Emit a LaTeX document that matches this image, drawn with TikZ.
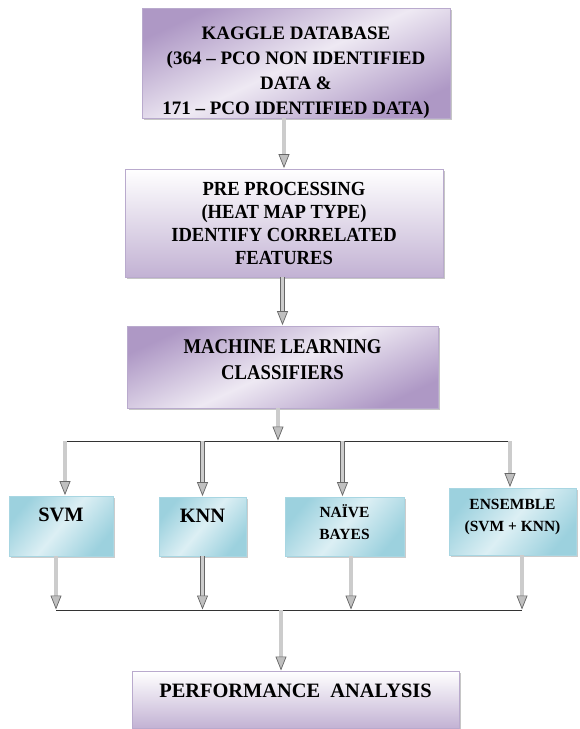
\documentclass[tikz,border=0pt]{standalone}
\usepackage{fontspec}
\setmainfont{Liberation Serif}
\newfontfamily\tnr{Liberation Serif}
\newfontfamily\tnrB{Liberation Serif}[FakeStretch=0.93]
\newfontfamily\tnrC{Liberation Serif}[FakeStretch=0.89]
\usetikzlibrary{arrows.meta,shadows,calc}
\definecolor{pdark}{HTML}{AE98C5}
\definecolor{plight}{HTML}{EEE9F3}
\definecolor{pborder}{HTML}{B9AACD}
\definecolor{bdark}{HTML}{9CD1DE}
\definecolor{blight}{HTML}{DCEFF4}
\definecolor{bborder}{HTML}{A8D6E2}
\tikzset{
  pbox/.style={draw=pborder, line width=0.8pt, align=center,
    drop shadow={shadow xshift=1.5pt, shadow yshift=-2pt, opacity=0.45, fill=gray}},
  pdiag/.style={pbox, top color=pdark, bottom color=pdark, middle color=plight, shading angle=25},
  pvert/.style={pbox, top color=white, bottom color=pdark!75},
  bbox/.style={draw=bborder, line width=0.8pt, align=center,
    top color=bdark, bottom color=bdark, middle color=blight, shading angle=50,
    drop shadow={shadow xshift=1.5pt, shadow yshift=-2pt, opacity=0.4, fill=gray}},
  blk/.style={draw=gray!80!black, line width=0.7pt, double=gray!40, double distance=3.2pt,
    -{Triangle[length=14pt, width=11pt, fill=gray!50, line width=0.7pt]}, shorten >=0.5pt},
  bus/.style={draw=black!80, line width=1pt}
}
\begin{document}
\begin{tikzpicture}[x=1pt, y=-1pt]
\useasboundingbox (0,0) rectangle (580,729);
\node[pdiag, minimum width=308pt, minimum height=110pt,
  label={[align=center, yshift=-10pt, font=\tnr\bfseries\fontsize{19}{25}\selectfont]center:KAGGLE DATABASE\\(364 – PCO NON IDENTIFIED\\DATA \&\\171 – PCO IDENTIFIED DATA)}] (b1) at (296,63) {};
\node[pvert, minimum width=318pt, minimum height=108pt, font=\tnrB\bfseries\fontsize{20}{23}\selectfont] (b2) at (284,223)
  {PRE PROCESSING\\(HEAT MAP TYPE)\\IDENTIFY CORRELATED\\FEATURES};
\node[pdiag, minimum width=311pt, minimum height=82pt, font=\tnrC\bfseries\fontsize{21}{26}\selectfont] (b3) at (282.5,367)
  {MACHINE LEARNING\\CLASSIFIERS\rule[-15pt]{0pt}{0pt}};
\node[bbox, minimum width=104pt, minimum height=60pt, font=\tnr\bfseries\fontsize{20.4}{22}\selectfont] (svm) at (61,526) {SVM\rule[-22pt]{0pt}{0pt}};
\node[bbox, minimum width=87pt, minimum height=59pt, font=\tnr\bfseries\fontsize{20.4}{22}\selectfont] (knn) at (202.5,526.5) {KNN\rule[-22pt]{0pt}{0pt}};
\node[bbox, minimum width=119pt, minimum height=59pt, font=\tnr\bfseries\fontsize{15.5}{22}\selectfont] (nb) at (344.5,526.5) {NAÏVE\\BAYES\rule[-8pt]{0pt}{0pt}};
\node[bbox, minimum width=127pt, minimum height=67pt, font=\tnr\bfseries\fontsize{15.5}{22}\selectfont] (ens) at (512.5,521.5) {ENSEMBLE\\(SVM + KNN)\rule[-13pt]{0pt}{0pt}};
\node[pvert, anchor=north, minimum width=327pt, inner ysep=0pt, text height=26pt, text depth=31pt,
  font=\tnr\bfseries\fontsize{20.4}{22}\selectfont] (perf) at (295.5,671) {PERFORMANCE\ \ ANALYSIS};

\coordinate (t1) at (65,441);
\coordinate (t2) at (510,441);
\coordinate (tm) at (278,441);
\coordinate (u1) at (56,610);
\coordinate (u2) at (522,610);
\coordinate (um) at (281,610);

\draw[blk] (b2.north |- b1.south) -- (b2.north);
\draw[blk] (b3.north |- b2.south) -- (b3.north);
\draw[blk] (tm |- b3.south) -- (tm);
\draw[bus] (t1) -- (t2);
\draw[blk] (t1) -- (t1 |- svm.north);
\draw[blk] (knn.north |- t1) -- (knn.north);
\draw[blk] ($(nb.north |- t1)+(-2,0)$) -- ($(nb.north)+(-2,0)$);
\draw[blk] (t2) -- (t2 |- ens.north);
\draw[blk] (u1 |- svm.south) -- (u1);
\draw[blk] (knn.south) -- (knn.south |- u1);
\draw[blk] ($(nb.south)+(6.5,0)$) -- ($(nb.south |- u1)+(6.5,0)$);
\draw[blk] (u2 |- ens.south) -- (u2);
\draw[bus] (u1) -- (u2);
\draw[blk] (um) -- (um |- perf.north);
\end{tikzpicture}
\end{document}
